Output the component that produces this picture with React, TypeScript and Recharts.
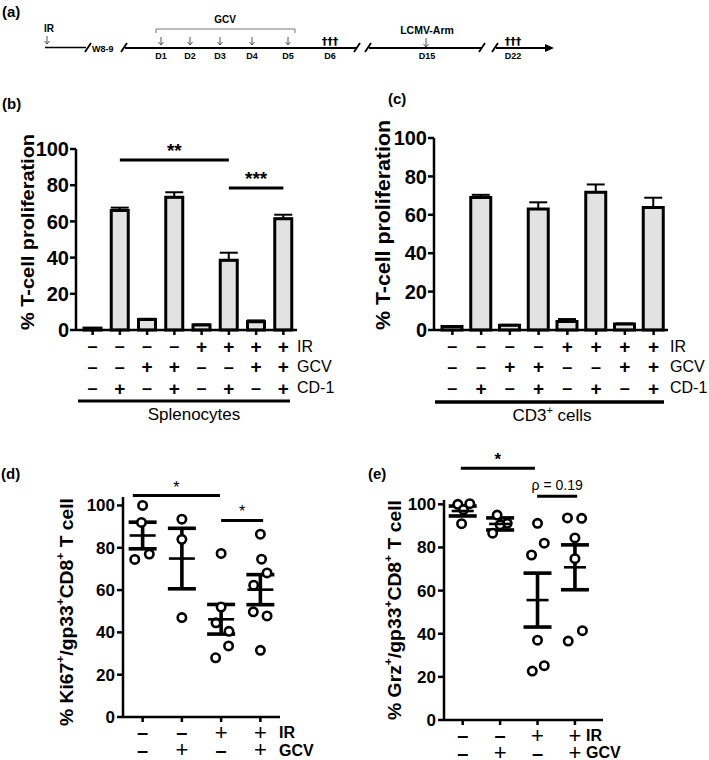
import React from 'react'
import {
  BarChart,
  Bar,
  ScatterChart,
  Scatter,
  XAxis,
  YAxis,
  ErrorBar,
  ReferenceLine,
} from 'recharts'

const FONT = '"Liberation Sans", Arial, Helvetica, sans-serif'
const BAR_FILL = '#e2e2e2'

// (b) + (c) conditions, 8 lanes
const lanes = [1, 2, 3, 4, 5, 6, 7, 8]
const laneIR = ['-', '-', '-', '-', '+', '+', '+', '+']
const laneGCV = ['-', '-', '+', '+', '-', '-', '+', '+']
const laneCD1 = ['-', '+', '-', '+', '-', '+', '-', '+']

// (b) splenocytes
const splenoMean = [1, 66, 5.8, 73.3, 2.8, 38.5, 4.6, 61.5]
const splenoSem = [0.2, 1.6, 0.4, 2.8, 0.3, 4.2, 0.7, 2.2]

// (c) CD3+ cells
const cd3Mean = [1.8, 69, 2.5, 63, 4.4, 71.8, 3.1, 63.8]
const cd3Sem = [0.2, 1.4, 0.2, 3.5, 1.3, 4, 0.3, 5.1]

// (d) / (e) groups
const groups = [1, 2, 3, 4]
const groupIR = ['-', '-', '+', '+']
const groupGCV = ['-', '+', '-', '+']

// (d) Ki67+
const kiValues = [
  [100, 92, 74.5, 77],
  [93.5, 84, 47],
  [77.3, 52, 44.5, 40.5, 33.6, 28],
  [86.4, 74.6, 68.1, 62.3, 49.7, 47.8, 31.5],
]
const kiJitter = [
  [0, -0.03, -0.2, 0.17],
  [0, 0, 0],
  [0, 0, -0.13, 0.2, 0.19, -0.14],
  [0, 0.03, 0.17, -0.17, -0.18, 0.17, 0],
]
const kiMean = [85.8, 74.9, 46.2, 60.2]
const kiSem = [6.3, 14.3, 7, 7.1]

// (e) Grz+
const grzValues = [
  [100, 100.3, 97.5, 91],
  [95, 91.2, 86.6, 90.5],
  [91.2, 82, 76.5, 37, 22.7, 25.2],
  [93.7, 93.5, 84.4, 74.8, 36.6, 41.4],
]
const grzJitter = [
  [-0.13, 0.19, 0.02, -0.03],
  [-0.08, 0.19, -0.2, 0],
  [0, 0.18, -0.16, 0, -0.14, 0.18],
  [-0.2, 0.18, 0, 0, -0.18, 0.2],
]
const grzMean = [96.9, 90.9, 55.6, 70.8]
const grzSem = [2.3, 2.8, 12.5, 10.4]

const pctTicks = [0, 20, 40, 60, 80, 100]

const splenoData = lanes.map((lane, i) => ({
  lane,
  value: splenoMean[i],
  err: [0, splenoSem[i]],
}))
const cd3Data = lanes.map((lane, i) => ({
  lane,
  value: cd3Mean[i],
  err: [0, cd3Sem[i]],
}))

const toPoints = (values: number[][], jitter: number[][]) =>
  values.flatMap((vals, g) => vals.map((v, k) => ({ x: groups[g] + jitter[g][k], y: v })))
const toSummary = (mean: number[], sem: number[]) =>
  groups.map((g, i) => ({ x: g, y: mean[i], sem: sem[i] }))

const kiPoints = toPoints(kiValues, kiJitter)
const kiSummary = toSummary(kiMean, kiSem)
const grzPoints = toPoints(grzValues, grzJitter)
const grzSummary = toSummary(grzMean, grzSem)

type SignStyle = { fontSize: number; fontWeight: string }

function signTick(rows: string[][], offsets: number[], plus: SignStyle, minus: SignStyle) {
  return (props: any) => {
    const { x, y, payload } = props
    const i = Math.round(Number(payload.value)) - 1
    return (
      <g>
        {rows.map((row, r) => {
          const s = row[i]
          const st = s === '+' ? plus : minus
          return (
            <text
              key={r}
              x={x}
              y={y + offsets[r]}
              textAnchor="middle"
              dominantBaseline="central"
              fontFamily={FONT}
              fill="#000"
              fontSize={st.fontSize}
              fontWeight={st.fontWeight}
            >
              {s === '+' ? '+' : '\u2013'}
            </text>
          )
        })}
      </g>
    )
  }
}

const dot = (p: any) => (
  <circle cx={p.cx} cy={p.cy} r={4.2} fill="#fff" stroke="#000" strokeWidth={2.6} />
)
const meanLine = (half: number) => (p: any) => (
  <line x1={p.cx - half} x2={p.cx + half} y1={p.cy} y2={p.cy} stroke="#000" strokeWidth={2.6} />
)

const axisStroke = { stroke: '#000', strokeWidth: 2.5 }

function BarPanel({ data, marginTop, marginLeft, marginRight, barSize, padLeft, children }: any) {
  return (
    <BarChart
      width={360}
      height={340}
      data={data}
      margin={{ top: marginTop, right: marginRight, bottom: 70, left: marginLeft }}
    >
      <XAxis
        dataKey="lane"
        type="category"
        height={30}
        padding={{ left: padLeft, right: 0 }}
        axisLine={axisStroke}
        tickLine={axisStroke}
        tickSize={5}
        tickMargin={0}
        interval={0}
        tick={signTick(
          [laneIR, laneGCV, laneCD1],
          [11, 31.5, 53],
          { fontSize: 19, fontWeight: 'bold' },
          { fontSize: 18, fontWeight: 'bold' }
        )}
      />
      <YAxis
        width={60}
        domain={[0, 100]}
        ticks={pctTicks}
        axisLine={axisStroke}
        tickLine={axisStroke}
        tickSize={6}
        tickMargin={1}
        tick={{ fill: '#000', fontSize: 20, fontWeight: 'bold', fontFamily: FONT }}
      />
      <Bar
        dataKey="value"
        fill={BAR_FILL}
        stroke="#000"
        strokeWidth={3}
        barSize={barSize}
        isAnimationActive={false}
      >
        <ErrorBar dataKey="err" width={9} strokeWidth={2} stroke="#000" direction="y" />
      </Bar>
      {children}
    </BarChart>
  )
}

function DotPanel({ width, points, summary, marginTop, marginLeft, marginRight, marginBottom, xMax, yMax, half, children }: any) {
  return (
    <ScatterChart
      width={width}
      height={320}
      margin={{ top: marginTop, right: marginRight, bottom: marginBottom, left: marginLeft }}
    >
      <XAxis
        dataKey="x"
        type="number"
        domain={[0.5, xMax]}
        ticks={groups}
        height={30}
        axisLine={axisStroke}
        tickLine={axisStroke}
        tickSize={5}
        tickMargin={0}
        interval={0}
        tick={signTick(
          [groupIR, groupGCV],
          [10, 27.5],
          { fontSize: 22, fontWeight: 'normal' },
          { fontSize: 20, fontWeight: 'bold' }
        )}
      />
      <YAxis
        dataKey="y"
        type="number"
        width={45}
        domain={[0, yMax]}
        ticks={pctTicks}
        axisLine={axisStroke}
        tickLine={axisStroke}
        tickSize={6}
        tickMargin={2}
        tick={{ fill: '#000', fontSize: 17, fontWeight: 'bold', fontFamily: FONT }}
      />
      <Scatter data={points} shape={dot} isAnimationActive={false} />
      <Scatter data={summary} shape={meanLine(half)} isAnimationActive={false}>
        <ErrorBar dataKey="sem" width={14} strokeWidth={3.6} stroke="#000" direction="y" />
      </Scatter>
      {children}
    </ScatterChart>
  )
}

const sigLabel = (value: string, fontSize: number, fontWeight = 'bold', offset = 3) => ({
  value,
  position: 'top' as const,
  fill: '#000',
  fontSize,
  fontWeight,
  fontFamily: FONT,
  offset,
})

function Timeline() {
  const arrow = (x: number, y1: number, y2: number, key: string) => (
    <path
      key={key}
      d={`M${x},${y1} L${x},${y2} M${x - 2.5},${y2 - 3} L${x},${y2} L${x + 2.5},${y2 - 3}`}
      stroke="#555"
      strokeWidth={1}
      fill="none"
    />
  )
  const dLabels = [
    ['D1', 161],
    ['D2', 190],
    ['D3', 220],
    ['D4', 252],
    ['D5', 288],
    ['D6', 330],
    ['D15', 427],
    ['D22', 513],
  ] as const
  const slash = (x: number, key: string) => (
    <line key={key} x1={x - 3} y1={52} x2={x + 3} y2={43} stroke="#000" strokeWidth={1.8} />
  )
  return (
    <g fontFamily={FONT} fontWeight="bold" fill="#000">
      <text x={2} y={17} fontSize={15}>(a)</text>
      <text x={49} y={32} fontSize={10} textAnchor="middle">IR</text>
      {arrow(47, 36, 44, 'ir')}
      <line x1={45} y1={47.5} x2={86} y2={47.5} stroke="#000" strokeWidth={1.5} />
      {slash(88, 's1')}
      <text x={92} y={51.5} fontSize={9}>W8-9</text>
      {slash(124, 's2')}
      <line x1={125} y1={48} x2={357} y2={48} stroke="#000" strokeWidth={2} />
      {slash(357, 's3')}
      {slash(368, 's4')}
      <line x1={369} y1={48} x2={482} y2={48} stroke="#000" strokeWidth={2} />
      {slash(482, 's5')}
      {slash(495, 's6')}
      <line x1={496} y1={48} x2={546} y2={48} stroke="#000" strokeWidth={2} />
      <polygon points="554,48 545,44 545,52" fill="#000" />
      <path d="M156,33 V29 H295 V33" stroke="#777" strokeWidth={1} fill="none" />
      <text x={225} y={23} fontSize={10} textAnchor="middle">GCV</text>
      {[161, 190, 220, 252, 288].map((x, i) => arrow(x, 37, 45, 'g' + i))}
      {dLabels.map(([t, x]) => (
        <text key={t} x={x} y={58.5} fontSize={9} textAnchor="middle">{t}</text>
      ))}
      <g fontFamily='"DejaVu Sans", sans-serif' fontSize={11} fill="#000">
        <text x={330} y={45} textAnchor="middle">{'\u2020\u2020\u2020'}</text>
        <text x={513} y={45} textAnchor="middle">{'\u2020\u2020\u2020'}</text>
      </g>
      <text x={427} y={34} fontSize={10.5} textAnchor="middle">LCMV-Arm</text>
      {arrow(426, 38, 47, 'lcmv')}
    </g>
  )
}

function Overlay() {
  const vLabel = (cx: number, cy: number, len: number, size: number, parts: [string, boolean][]) => (
    <text
      transform={`translate(${cx},${cy}) rotate(-90)`}
      textAnchor="middle"
      dominantBaseline="central"
      fontFamily={FONT}
      fontWeight="bold"
      fontSize={size}
      fill="#000"
      textLength={len}
      lengthAdjust="spacingAndGlyphs"
    >
      {parts.map(([t, sup], i) => (
        <tspan
          key={i}
          fontSize={sup ? size * 0.62 : size}
          dy={sup ? -size * 0.4 : i > 0 && parts[i - 1][1] ? size * 0.4 : 0}
        >
          {t}
        </tspan>
      ))}
    </text>
  )
  const rowLabel = (x: number, y: number, t: string, size: number, weight = 'normal') => (
    <text x={x} y={y} dominantBaseline="central" fontFamily={FONT} fontSize={size} fontWeight={weight} fill="#000">
      {t}
    </text>
  )
  return (
    <svg
      width={709}
      height={760}
      style={{ position: 'absolute', left: 0, top: 0, pointerEvents: 'none' }}
    >
      <Timeline />
      <g fontFamily={FONT} fontWeight="bold" fontSize={15} fill="#000">
        <text x={2} y={109}>(b)</text>
        <text x={388} y={104}>(c)</text>
        <text x={1} y={479}>(d)</text>
        <text x={368} y={479}>(e)</text>
      </g>
      {vLabel(27, 232, 196, 19, [['% T-cell proliferation', false]])}
      {vLabel(383, 225, 210, 20, [['% T-cell proliferation', false]])}
      {vLabel(67, 612, 228, 18, [
        ['% Ki67', false],
        ['+', true],
        ['/gp33', false],
        ['+', true],
        ['CD8', false],
        ['+', true],
        [' T cell', false],
      ])}
      {vLabel(395, 610, 220, 18, [
        ['% Grz', false],
        ['+', true],
        ['/gp33', false],
        ['+', true],
        ['CD8', false],
        ['+', true],
        [' T cell', false],
      ])}
      {rowLabel(297, 346, 'IR', 16)}
      {rowLabel(297, 366, 'GCV', 16)}
      {rowLabel(297, 387, 'CD-1', 16)}
      <line x1={78} y1={401} x2={290} y2={401} stroke="#000" strokeWidth={3} />
      <text x={194} y={420} textAnchor="middle" fontFamily={FONT} fontSize={17} fill="#000">
        Splenocytes
      </text>
      {rowLabel(670, 346, 'IR', 16)}
      {rowLabel(670, 366, 'GCV', 16)}
      {rowLabel(670, 387, 'CD-1', 16)}
      <line x1={435} y1={402} x2={664} y2={402} stroke="#000" strokeWidth={3.5} />
      <text x={552} y={421} textAnchor="middle" fontFamily={FONT} fontSize={17} fill="#000">
        CD3<tspan fontSize={11} dy={-7}>+</tspan>
        <tspan dy={7}> cells</tspan>
      </text>
      {rowLabel(279, 732, 'IR', 16, 'bold')}
      {rowLabel(279, 750, 'GCV', 16, 'bold')}
      {rowLabel(586, 735, 'IR', 16, 'bold')}
      {rowLabel(586, 752, 'GCV', 16, 'bold')}
    </svg>
  )
}

export default function App() {
  return (
    <div
      style={{
        position: 'absolute',
        left: 0,
        top: 0,
        width: 709,
        height: 760,
        background: '#fff',
        overflow: 'hidden',
        fontFamily: FONT,
      }}
    >
      <div style={{ position: 'absolute', left: 0, top: 90 }}>
        <BarPanel data={splenoData} marginTop={59} marginLeft={16} marginRight={63} barSize={17} padLeft={3}>
          <ReferenceLine
            segment={[{ x: 2, y: 93.9 }, { x: 6, y: 93.9 }]}
            stroke="#000"
            strokeWidth={3}
            ifOverflow="visible"
            label={sigLabel('**', 19)}
          />
          <ReferenceLine
            segment={[{ x: 6, y: 78.5 }, { x: 8, y: 78.5 }]}
            stroke="#000"
            strokeWidth={3}
            ifOverflow="visible"
            label={sigLabel('***', 19)}
          />
        </BarPanel>
      </div>
      <div style={{ position: 'absolute', left: 355, top: 90 }}>
        <BarPanel data={cd3Data} marginTop={48} marginLeft={19} marginRight={47} barSize={20} padLeft={4} />
      </div>
      <div style={{ position: 'absolute', left: 0, top: 440 }}>
        <DotPanel
          width={360}
          points={kiPoints}
          summary={kiSummary}
          marginTop={57}
          marginLeft={78}
          marginRight={80}
          marginBottom={13}
          xMax={4.5}
          yMax={104}
          half={13}
        >
          <ReferenceLine
            segment={[{ x: 0.75, y: 104.7 }, { x: 2.97, y: 104.7 }]}
            stroke="#000"
            strokeWidth={3}
            ifOverflow="visible"
            label={sigLabel('*', 16, 'normal')}
          />
          <ReferenceLine
            segment={[{ x: 3, y: 92.9 }, { x: 4.07, y: 92.9 }]}
            stroke="#000"
            strokeWidth={3}
            ifOverflow="visible"
            label={sigLabel('*', 16, 'normal')}
          />
        </DotPanel>
      </div>
      <div style={{ position: 'absolute', left: 355, top: 440 }}>
        <DotPanel
          width={354}
          points={grzPoints}
          summary={grzSummary}
          marginTop={60}
          marginLeft={44}
          marginRight={106}
          marginBottom={10}
          xMax={4.75}
          yMax={102}
          half={11}
        >
          <ReferenceLine
            segment={[{ x: 0.95, y: 116.7 }, { x: 2.93, y: 116.7 }]}
            stroke="#000"
            strokeWidth={3}
            ifOverflow="visible"
            label={sigLabel('*', 17, 'bold')}
          />
          <ReferenceLine
            segment={[{ x: 2.99, y: 103.7 }, { x: 4.06, y: 103.7 }]}
            stroke="#000"
            strokeWidth={3}
            ifOverflow="visible"
            label={sigLabel('\u03c1 = 0.19', 14, 'normal', 6)}
          />
        </DotPanel>
      </div>
      <Overlay />
    </div>
  )
}
